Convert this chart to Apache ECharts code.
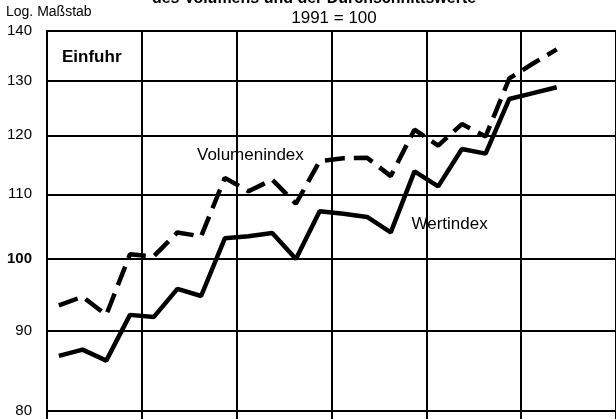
<!DOCTYPE html>
<html>
<head>
<meta charset="utf-8">
<script src="https://cdn.jsdelivr.net/npm/echarts@6/dist/echarts.min.js"></script>
<style>
html,body{margin:0;padding:0;background:#fff;}
#chart{width:616px;height:419px;}
</style>
</head>
<body>
<div id="chart"></div>
<script>
// Quarterly categories (x-axis labels are cropped out of the picture)
const years = ['1990','1991','1992','1993','1994','1995'];
const quarters = ['I','II','III','IV'];
const categories = [];
years.forEach(y => quarters.forEach(q => categories.push(q + '/' + y)));

// Volumenindex (dashed) and Wertindex (solid), 1991 = 100
const volumenindex = [93.4, 94.6, 92.1, 100.7, 100.4, 104.0, 103.4, 112.7, 110.5, 112.4, 108.5, 115.5,
                      116.0, 116.1, 113.0, 121.0, 118.2, 122.0, 119.8, 130.5, 133.4, 136.2];
const wertindex    = [86.7, 87.5, 86.1, 92.1, 91.8, 95.7, 94.7, 103.1, 103.4, 103.9, 100.0, 107.3,
                      106.9, 106.4, 104.0, 113.8, 111.3, 117.6, 116.8, 126.6, 127.7, 128.8];

// Log-scale tick values
const yTicks = [80, 90, 100, 110, 120, 130, 140];

const FONT = '"Liberation Sans", Arial, Helvetica, sans-serif';

const chart = echarts.init(document.getElementById('chart'), null, {renderer: 'canvas'});
chart.setOption({
  animation: false,
  backgroundColor: '#ffffff',
  grid: {left: 47, right: -3.4, top: 30.7, bottom: -1.3, containLabel: false},
  xAxis: {
    type: 'category',
    data: categories,
    boundaryGap: true,
    axisLine: {show: false},
    axisTick: {show: false, interval: 3},
    axisLabel: {show: false, interval: 3},
    splitLine: {show: true, interval: 3, lineStyle: {color: '#000', width: 2}}
  },
  yAxis: {
    type: 'log',
    logBase: 10,
    min: 79,
    max: 140.001,
    axisLine: {show: true, lineStyle: {color: '#000', width: 2}},
    axisTick: {show: false, customValues: yTicks},
    axisLabel: {
      customValues: yTicks,
      margin: 15,
      color: '#000',
      fontFamily: FONT,
      fontSize: 15,
      formatter: function (v) {
        const r = Math.round(v);
        return r === 100 ? '{b|100}' : String(r);
      },
      rich: {b: {fontWeight: 'bold', fontSize: 15, fontFamily: FONT, color: '#000'}}
    },
    splitLine: {show: true, lineStyle: {color: '#000', width: 2}}
  },
  series: [
    {
      name: 'Volumenindex',
      type: 'line',
      data: volumenindex,
      symbol: 'none',
      lineStyle: {color: '#000', width: 4.5, type: [20, 9]},
      z: 3
    },
    {
      name: 'Wertindex',
      type: 'line',
      data: wertindex,
      symbol: 'none',
      lineStyle: {color: '#000', width: 4.5, type: 'solid'},
      z: 3
    }
  ],
  graphic: [
    {type: 'text', x: 314, y: -1, z: 10,
     style: {text: 'des Volumens und der Durchschnittswerte', font: 'bold 16px ' + FONT, fill: '#000', align: 'center', verticalAlign: 'middle'}},
    {type: 'text', x: 334, y: 18, z: 10,
     style: {text: '1991 = 100', font: '17px ' + FONT, fill: '#000', align: 'center', verticalAlign: 'middle'}},
    {type: 'text', x: 6, y: 12, z: 10,
     style: {text: 'Log. Maßstab', font: '14px ' + FONT, fill: '#000', align: 'left', verticalAlign: 'middle'}},
    {type: 'text', x: 62, y: 57, z: 10,
     style: {text: 'Einfuhr', font: 'bold 17px ' + FONT, fill: '#000', align: 'left', verticalAlign: 'middle'}},
    {type: 'text', x: 197, y: 155.5, z: 10,
     style: {text: 'Volumenindex', font: '17px ' + FONT, fill: '#000', align: 'left', verticalAlign: 'middle'}},
    {type: 'text', x: 411.5, y: 224, z: 10,
     style: {text: 'Wertindex', font: '17px ' + FONT, fill: '#000', align: 'left', verticalAlign: 'middle'}}
  ]
});
</script>
</body>
</html>
